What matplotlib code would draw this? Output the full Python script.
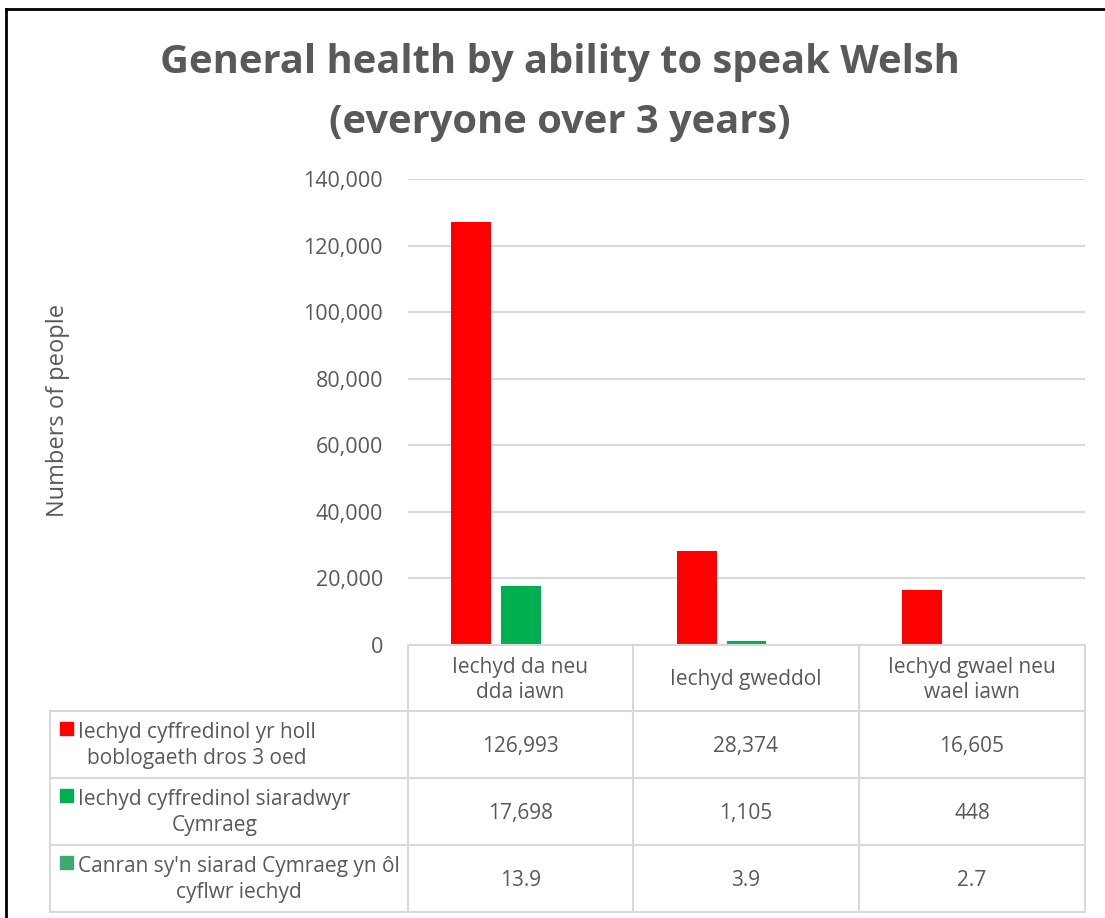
import numpy as np
import matplotlib
matplotlib.use('Agg')
import matplotlib.pyplot as plt
from matplotlib.lines import Line2D
from matplotlib.patches import Rectangle

# health categories (columns of the data table)
categories = ['Iechyd da neu\ndda iawn', 'Iechyd gweddol', 'Iechyd gwael neu\nwael iawn']

# series
series_names = ['Iechyd cyffredinol yr holl\nboblogaeth dros 3 oed',
                'Iechyd cyffredinol siaradwyr\nCymraeg',
                "Canran sy'n siarad Cymraeg yn ôl\ncyflwr iechyd"]
all_people = [126993, 28374, 16605]
welsh_speakers = [17698, 1105, 448]
percent_welsh = [13.9, 3.9, 2.7]

yticks = [0, 20000, 40000, 60000, 80000, 100000, 120000, 140000]

colors = ['#FF0000', '#00B050', '#3DAA6E']
text_grey = '#595959'
line_grey = '#D9D9D9'

plt.rcParams['font.family'] = ['Open Sans', 'DejaVu Sans']

W, H = 1105, 918
fig = plt.figure(figsize=(W / 100, H / 100), dpi=100)

# plot area in pixels
px0, px1, py0, py1 = 408, 1085, 645, 179
ax = fig.add_axes([px0 / W, 1 - py0 / H, (px1 - px0) / W, (py0 - py1) / H])

x = np.arange(len(categories))
bw = 40 / 225.7
step = 50 / 225.7
values = [all_people, welsh_speakers, percent_welsh]
for i, vals in enumerate(values):
    ax.bar(x + (i - 1) * step, vals, width=bw, color=colors[i], zorder=3)

ax.set_xlim(-0.5, len(categories) - 0.5)
ax.set_ylim(0, 140000)
ax.set_yticks(yticks)
ax.set_yticklabels(['{:,}'.format(v) for v in yticks], fontsize=15.5, color=text_grey)
ax.yaxis.grid(True, color=line_grey, lw=1.5, zorder=0)
ax.set_xticks([])
ax.tick_params(axis='y', length=0, pad=18)
for s in ax.spines.values():
    s.set_visible(False)

# overlay in pixel coordinates for title, table and frame
ov = fig.add_axes([0, 0, 1, 1], zorder=5)
ov.set_xlim(0, W)
ov.set_ylim(H, 0)
ov.axis('off')
ov.patch.set_alpha(0)

ov.text(560, 63, 'General health by ability to speak Welsh', ha='center', va='center',
        fontsize=28.7, fontweight='bold', color=text_grey)
ov.text(560, 123, '(everyone over 3 years)', ha='center', va='center',
        fontsize=28.7, fontweight='bold', color=text_grey)
ov.text(58, 410, 'Numbers of people', rotation=90, ha='center', va='center',
        fontsize=17, color=text_grey)

# data table
col_x = [408, 633, 859, 1085]
row_y = [645, 711, 778, 845, 912]
left_x = 50
for y in row_y:
    x0 = px0 if y == row_y[0] else left_x
    ov.add_line(Line2D([x0, col_x[-1]], [y, y], color=line_grey, lw=1.5))
for cx in col_x:
    ov.add_line(Line2D([cx, cx], [row_y[0], row_y[-1]], color=line_grey, lw=1.5))
ov.add_line(Line2D([left_x, left_x], [row_y[1], row_y[-1]], color=line_grey, lw=1.5))

for j, cat in enumerate(categories):
    cx = (col_x[j] + col_x[j + 1]) / 2
    ov.text(cx, (row_y[0] + row_y[1]) / 2 + 2, cat, ha='center', va='center',
            fontsize=15, color=text_grey, linespacing=1.3)

fmts = ['{:,}', '{:,}', '{:.1f}']
for i, vals in enumerate(values):
    yc = (row_y[i + 1] + row_y[i + 2]) / 2
    for j, v in enumerate(vals):
        cx = (col_x[j] + col_x[j + 1]) / 2
        ov.text(cx, yc + 2, fmts[i].format(v), ha='center', va='center',
                fontsize=15, color=text_grey)
    # legend key sits just before the first line of the series name
    ov.add_patch(Rectangle((60, yc - 23), 13, 13, color=colors[i]))
    ov.text(78, yc + 1, series_names[i], ha='left', va='center', multialignment='center',
            fontsize=15, color=text_grey, linespacing=1.3)

# outer frame on top and left
ov.add_line(Line2D([6, W], [9, 9], color='black', lw=2))
ov.add_line(Line2D([6, 6], [9, H], color='black', lw=2))

fig.savefig('out.png', dpi=100)
